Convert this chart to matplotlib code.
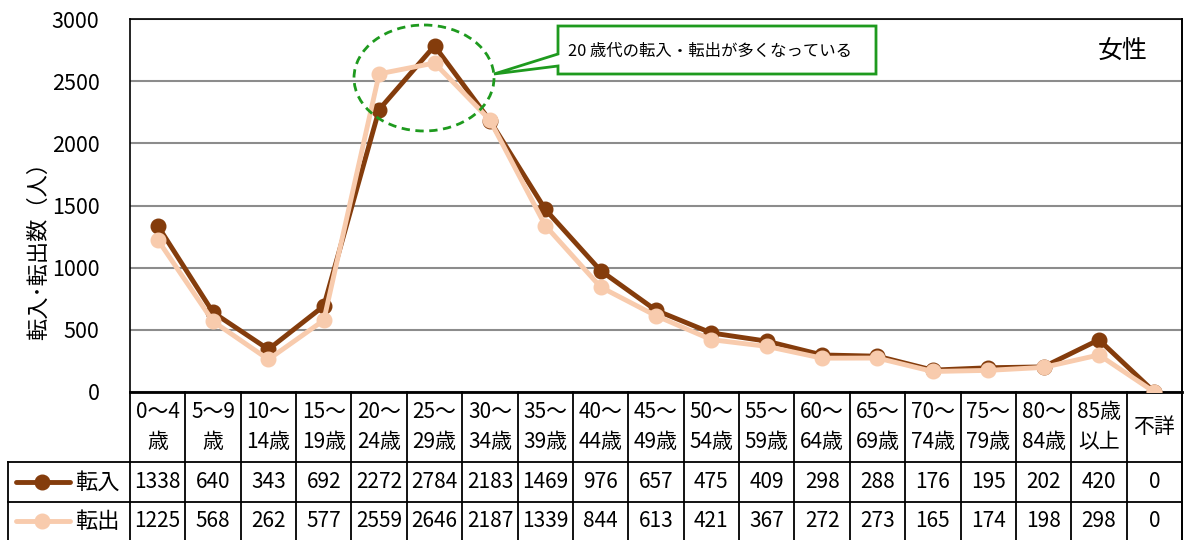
import matplotlib
matplotlib.use("Agg")
import matplotlib.pyplot as plt
from matplotlib.patches import Ellipse, Polygon

plt.rcParams['font.family'] = ['Noto Sans CJK JP', 'DejaVu Sans']

# 年齢階級別の転入・転出数（女性）
categories = ["0〜4\n歳", "5〜9\n歳", "10〜\n14歳", "15〜\n19歳", "20〜\n24歳",
              "25〜\n29歳", "30〜\n34歳", "35〜\n39歳", "40〜\n44歳", "45〜\n49歳",
              "50〜\n54歳", "55〜\n59歳", "60〜\n64歳", "65〜\n69歳", "70〜\n74歳",
              "75〜\n79歳", "80〜\n84歳", "85歳\n以上", "不詳"]
tennyu = [1338, 640, 343, 692, 2272, 2784, 2183, 1469, 976, 657,
          475, 409, 298, 288, 176, 195, 202, 420, 0]
tenshutsu = [1225, 568, 262, 577, 2559, 2646, 2187, 1339, 844, 613,
             421, 367, 272, 273, 165, 174, 198, 298, 0]
series_names = ["転入", "転出"]
yticks = [0, 500, 1000, 1500, 2000, 2500, 3000]

c_in = "#843C0C"
c_out = "#F8CBAD"
green = "#1E9A1E"

W, H = 1191, 540
fig = plt.figure(figsize=(W / 100, H / 100), dpi=100)

# プロット領域（ピクセル位置）
L, R, T, B = 130, 1182, 19, 392
ax = fig.add_axes([L / W, 1 - B / H, (R - L) / W, (B - T) / H])
x = list(range(len(categories)))
ax.plot(x, tennyu, color=c_in, lw=3.5, marker="o", ms=10.5, zorder=3)
ax.plot(x, tenshutsu, color=c_out, lw=3.5, marker="o", ms=10.5, zorder=4)
ax.set_xlim(-0.5, len(categories) - 0.5)
ax.set_ylim(0, 3000)
ax.set_yticks(yticks)
ax.set_xticks([])
ax.yaxis.grid(True, color="#8c8c8c", lw=1.5)
ax.set_axisbelow(True)
ax.tick_params(axis="y", length=0, pad=22, labelsize=15.5)
for side in ["left", "top", "right"]:
    ax.spines[side].set_linewidth(1.2)
ax.spines["bottom"].set_linewidth(2.0)
for s in ax.spines.values():
    s.set_color("black")

# 表・注記用のオーバーレイ（ピクセル座標）
ov = fig.add_axes([0, 0, 1, 1], zorder=5)
ov.set_xlim(0, W)
ov.set_ylim(H, 0)
ov.patch.set_alpha(0)
ov.axis("off")

ov.text(38, 245, "転入･転出数（人）", rotation=90, ha="center", va="center", fontsize=16)
ov.text(1123, 52, "女性", ha="center", va="center", fontsize=18)

# 20歳代を囲む破線の楕円と吹き出し
ov.add_patch(Ellipse((424, 78), 140, 106, fill=False, ec=green, lw=2, ls=(0, (3, 2))))
ov.add_patch(Polygon([(558, 26), (876, 26), (876, 74), (558, 74), (558, 66),
                      (494, 74), (558, 54)], closed=True, fc="white", ec=green, lw=2))
ov.text(568, 51, "20 歳代の転入・転出が多くなっている", ha="left", va="center", fontsize=11.8)

# データテーブル
n = len(categories)
col_w = (R - L) / n
row1, row2, row3 = 462, 502, H
lk = dict(color="black", lw=1.3)
for i in range(n + 1):
    xe = L + i * col_w
    ov.plot([xe, xe], [B, H], **lk)
ov.plot([R, R], [T, H], **lk)
ov.plot([8, R], [row1, row1], **lk)
ov.plot([8, R], [row2, row2], **lk)
ov.plot([8, 8], [row1, H], **lk)

for i, lab in enumerate(categories):
    xc = L + (i + 0.5) * col_w
    lines = lab.split("\n")
    if len(lines) == 2:
        ov.text(xc, 412, lines[0], ha="center", va="center", fontsize=15)
        ov.text(xc, 442, lines[1], ha="center", va="center", fontsize=15)
    else:
        ov.text(xc, 427, lines[0], ha="center", va="center", fontsize=15)
    ov.text(xc, (row1 + row2) / 2, str(tennyu[i]), ha="center", va="center", fontsize=15)
    ov.text(xc, (row2 + row3) / 2, str(tenshutsu[i]), ha="center", va="center", fontsize=15)

# 凡例キー
for name, col, yc in [(series_names[0], c_in, (row1 + row2) / 2),
                      (series_names[1], c_out, (row2 + row3) / 2)]:
    ov.plot([16, 70], [yc, yc], color=col, lw=3.5, solid_capstyle="round")
    ov.plot([42], [yc], marker="o", ms=10.5, color=col)
    ov.text(97, yc, name, ha="center", va="center", fontsize=16)

fig.savefig("out.png", dpi=100)
